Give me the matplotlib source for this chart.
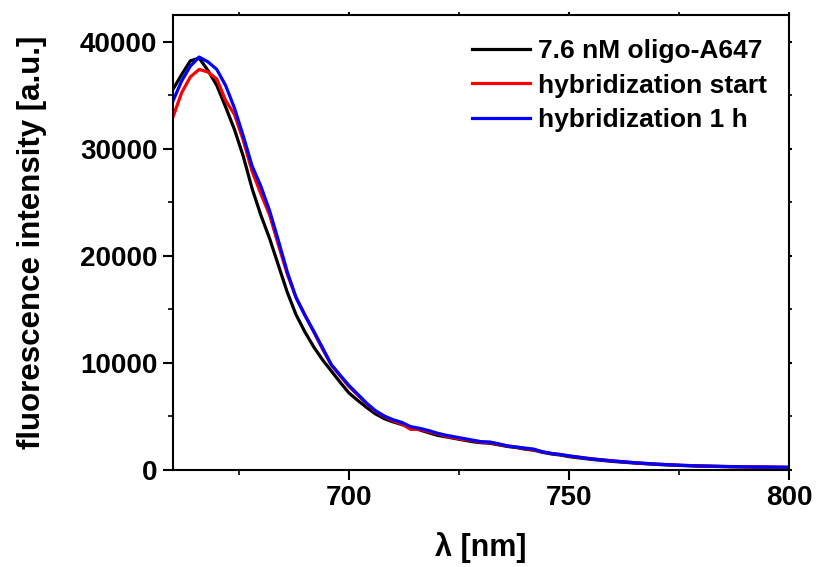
import matplotlib
matplotlib.use("Agg")
import matplotlib.pyplot as plt
from matplotlib.ticker import MultipleLocator

plt.rcParams['font.family'] = ['Liberation Sans', 'DejaVu Sans']
plt.rcParams['font.weight'] = 'bold'

# Emission spectra (wavelength in nm, intensity in a.u.)
wl_ref = [660, 662, 664, 666, 668, 670, 672, 674, 676, 678, 680, 682, 684, 686, 688,
          690, 692, 694, 696, 698, 700, 702, 704, 706, 708, 710, 712, 714, 716, 718,
          720, 722, 724, 726, 728, 730, 732, 734, 736, 738, 740, 742, 744, 746, 748,
          750, 755, 760, 765, 770, 775, 780, 785, 790, 795, 800]
oligo = [35500, 36900, 38200, 38450, 37300, 35900, 33900, 31800, 29300, 26300, 23800,
         21600, 19100, 16600, 14500, 12900, 11500, 10300, 9250, 8200, 7200, 6500, 5850,
         5250, 4800, 4500, 4250, 4000, 3750, 3500, 3250, 3100, 2950, 2800, 2650, 2550,
         2500, 2350, 2200, 2100, 1950, 1850, 1650, 1500, 1400, 1250, 1000, 800, 650,
         520, 430, 360, 320, 280, 260, 240]
hyb_start = [32900, 35200, 36700, 37400, 37150, 36500, 34500, 33200, 30800, 27900,
             25800, 23800, 21000, 18300, 16100, 14500, 12900, 11300, 9800, 8800, 7800,
             7000, 6200, 5500, 5000, 4600, 4300, 3800, 3800, 3600, 3400, 3150, 3000,
             2850, 2750, 2600, 2550, 2400, 2250, 2150, 2000, 1900, 1700, 1550, 1450,
             1300, 1050, 850, 680, 550, 450, 380, 330, 300, 270, 250]
hyb_1h = [34400, 36300, 37700, 38550, 38100, 37400, 35900, 33800, 31200, 28400, 26500,
          24200, 21400, 18500, 16100, 14450, 12970, 11420, 9850, 8860, 7900, 7080, 6250,
          5550, 5050, 4700, 4450, 4050, 3900, 3700, 3450, 3250, 3100, 2950, 2800, 2650,
          2620, 2450, 2250, 2150, 2050, 1950, 1700, 1550, 1450, 1330, 1050, 850, 680,
          550, 450, 380, 340, 300, 280, 260]

labels = ['7.6 nM oligo-A647', 'hybridization start', 'hybridization 1 h']
colors = ['black', 'red', 'blue']

fig = plt.figure(figsize=(8.16, 5.67), dpi=100)
ax = fig.add_axes([0.2117, 0.171, 0.7556, 0.803])

for y, lab, c in zip([oligo, hyb_start, hyb_1h], labels, colors):
    ax.plot(wl_ref, y, color=c, lw=2.3, label=lab)

ax.set_xlim(660, 800)
ax.set_ylim(0, 42500)
ax.xaxis.set_major_locator(MultipleLocator(50))
ax.xaxis.set_minor_locator(MultipleLocator(25))
ax.yaxis.set_major_locator(MultipleLocator(10000))
ax.yaxis.set_minor_locator(MultipleLocator(5000))

for s in ax.spines.values():
    s.set_linewidth(1.5)

ax.tick_params(axis='both', which='major', direction='out', length=7, width=1.5,
               labelsize=20, pad=4)
ax.tick_params(axis='both', which='minor', direction='out', length=3.5, width=1.2)
ax.tick_params(top=True, right=True, which='both')
for t in ax.xaxis.get_major_ticks() + ax.xaxis.get_minor_ticks():
    t.tick2line.set_markersize(2)
for t in ax.yaxis.get_major_ticks() + ax.yaxis.get_minor_ticks():
    t.tick2line.set_markersize(2)

for lbl in ax.get_xticklabels() + ax.get_yticklabels():
    lbl.set_fontweight('bold')

ax.set_xlabel('λ [nm]', fontsize=22, fontweight='bold', labelpad=15)
ax.set_ylabel('fluorescence intensity [a.u.]', fontsize=22.5, fontweight='bold',
              labelpad=24)

leg = ax.legend(loc='upper right', bbox_to_anchor=(0.99, 0.981), frameon=False,
                fontsize=19, handlelength=2.2, handletextpad=0.3, labelspacing=0.39,
                borderaxespad=0.2)
for line in leg.get_lines():
    line.set_linewidth(2.3)

fig.savefig('out.png', dpi=100)
